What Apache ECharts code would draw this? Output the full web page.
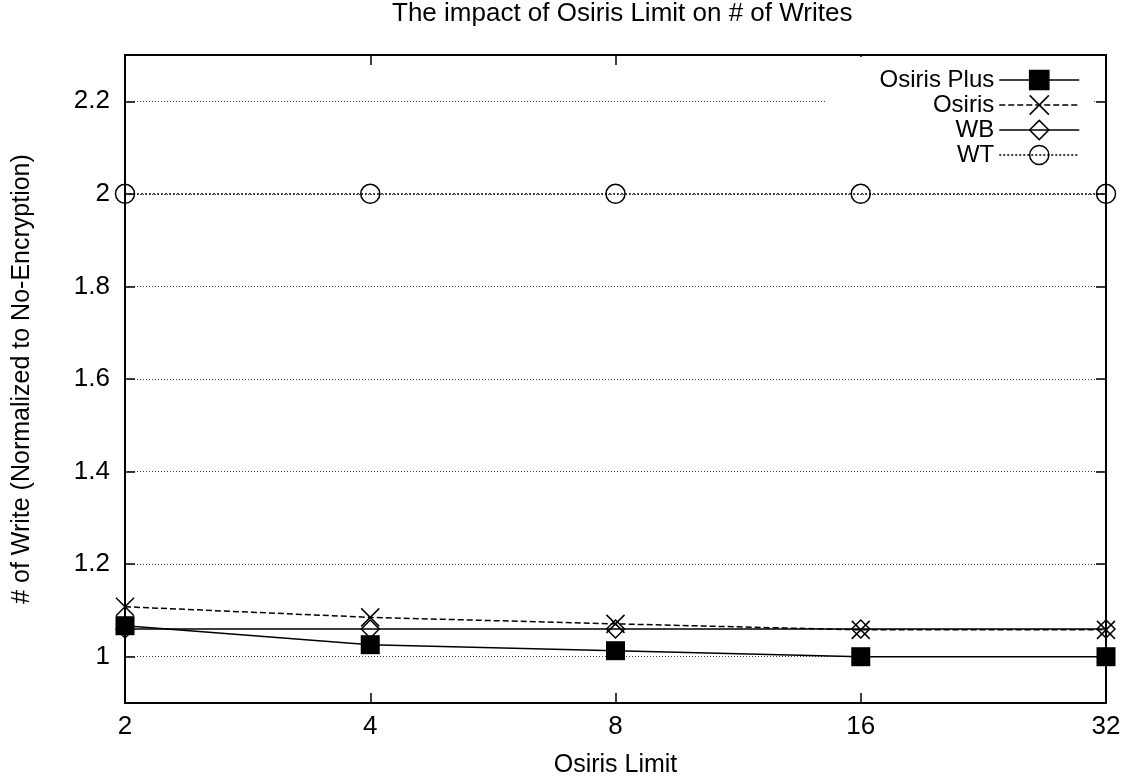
<!DOCTYPE html>
<html>
<head>
<meta charset="utf-8">
<script src="https://cdn.jsdelivr.net/npm/echarts@6/dist/echarts.min.js"></script>
<style>
  html, body { margin: 0; padding: 0; background: #fff; }
  #chart { width: 1125px; height: 783px; }
</style>
</head>
<body>
<div id="chart"></div>
<script>
// Osiris limit values on the x axis
const limits = ['2', '4', '8', '16', '32'];
// Number of writes, normalized to the no-encryption baseline
const osirisPlus = [1.067, 1.026, 1.013, 1.0, 1.0];
const osiris = [1.108, 1.085, 1.071, 1.058, 1.058];
const wb = [1.06, 1.06, 1.06, 1.06, 1.06];
const wt = [2, 2, 2, 2, 2];
// Labelled y ticks
const yTicks = [1, 1.2, 1.4, 1.6, 1.8, 2, 2.2];

const FONT = '"Liberation Sans", Arial, Helvetica, sans-serif';
const BLACK = '#000';
const crossPath = 'path://M0,0L10,10M10,0L0,10';

const frameLine = { show: true, lineStyle: { color: BLACK, width: 2 } };
const innerTick = { show: true, inside: true, length: 10, lineStyle: { color: BLACK, width: 1.5 } };

const chart = echarts.init(document.getElementById('chart'), null, { renderer: 'canvas' });

chart.setOption({
  backgroundColor: '#fff',
  animation: false,
  title: {
    text: 'The impact of Osiris Limit on # of Writes',
    left: 392,
    top: 1,
    padding: 0,
    textStyle: { fontFamily: FONT, fontSize: 26, fontWeight: 'normal', color: BLACK }
  },
  grid: { left: 125, right: 19, top: 55, bottom: 78, containLabel: false },
  legend: {
    orient: 'vertical',
    align: 'right',
    right: 33,
    top: 57,
    padding: [11, 12, 6, 54],
    backgroundColor: '#fff',
    itemWidth: 80,
    itemHeight: 24,
    itemGap: 1,
    selectedMode: false,
    textStyle: { fontFamily: FONT, fontSize: 24, color: BLACK },
    itemStyle: { borderWidth: 1.5 },
    lineStyle: { width: 1.5 },
    data: ['Osiris Plus', 'Osiris', 'WB', 'WT']
  },
  xAxis: [
    {
      type: 'category',
      data: limits,
      boundaryGap: false,
      position: 'bottom',
      name: 'Osiris Limit',
      nameLocation: 'middle',
      nameGap: 50,
      nameTextStyle: { fontFamily: FONT, fontSize: 25, color: BLACK },
      axisLine: frameLine,
      axisTick: innerTick,
      axisLabel: { fontFamily: FONT, fontSize: 26, color: BLACK, margin: 11 },
      splitLine: { show: false }
    },
    {
      type: 'category',
      data: limits,
      boundaryGap: false,
      position: 'top',
      axisLine: frameLine,
      axisTick: innerTick,
      axisLabel: { show: false },
      splitLine: { show: false }
    }
  ],
  yAxis: [
    {
      type: 'value',
      min: 0.9,
      max: 2.3,
      position: 'left',
      name: '# of Write (Normalized to No-Encryption)',
      nameLocation: 'middle',
      nameGap: 90,
      nameTextStyle: { fontFamily: FONT, fontSize: 25, color: BLACK },
      axisLine: frameLine,
      axisTick: Object.assign({}, innerTick, { customValues: yTicks }),
      axisLabel: { fontFamily: FONT, fontSize: 26, color: BLACK, margin: 15, customValues: yTicks },
      splitLine: { show: true, lineStyle: { color: '#444', width: 1, type: [1, 2] } }
    },
    {
      type: 'value',
      min: 0.9,
      max: 2.3,
      position: 'right',
      axisLine: frameLine,
      axisTick: Object.assign({}, innerTick, { customValues: yTicks }),
      axisLabel: { show: false, customValues: yTicks },
      splitLine: { show: false }
    }
  ],
  series: [
    {
      name: 'Osiris Plus',
      type: 'line',
      data: osirisPlus,
      symbol: 'rect',
      symbolSize: 19,
      lineStyle: { color: BLACK, width: 1.5, type: 'solid' },
      itemStyle: { color: BLACK, borderColor: BLACK, borderWidth: 0 },
      z: 3
    },
    {
      name: 'Osiris',
      type: 'line',
      data: osiris,
      symbol: crossPath,
      symbolSize: 18,
      lineStyle: { color: BLACK, width: 1.5, type: [6, 3] },
      itemStyle: { color: BLACK, borderColor: BLACK, borderWidth: 1.5 },
      z: 4
    },
    {
      name: 'WB',
      type: 'line',
      data: wb,
      symbol: 'diamond',
      symbolSize: 18,
      lineStyle: { color: BLACK, width: 1.5, type: 'solid' },
      itemStyle: { color: 'rgba(0,0,0,0)', borderColor: BLACK, borderWidth: 1.5 },
      z: 2
    },
    {
      name: 'WT',
      type: 'line',
      data: wt,
      symbol: 'circle',
      symbolSize: 19,
      lineStyle: { color: BLACK, width: 1.2, type: [2, 2] },
      itemStyle: { color: 'rgba(0,0,0,0)', borderColor: BLACK, borderWidth: 1.5 },
      z: 2
    }
  ]
});
</script>
</body>
</html>
